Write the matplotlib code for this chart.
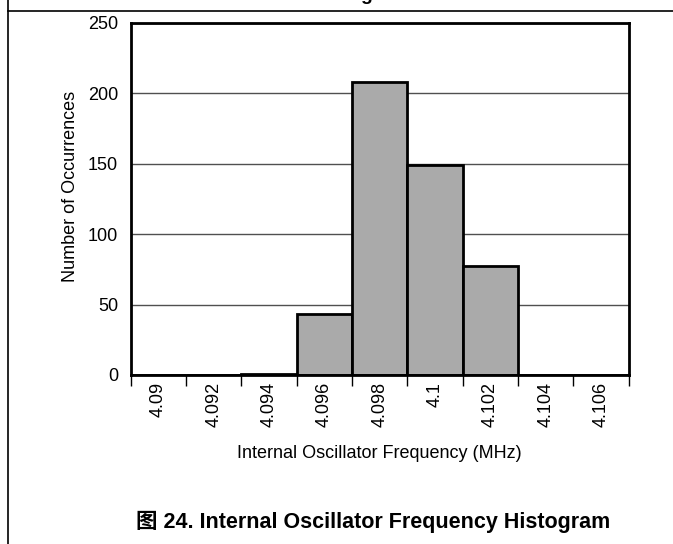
import numpy as np
import matplotlib
matplotlib.use('Agg')
import matplotlib.pyplot as plt
from matplotlib.lines import Line2D

# histogram data
bin_labels = ['4.09', '4.092', '4.094', '4.096', '4.098', '4.1', '4.102', '4.104', '4.106']
bin_centers = [4.090, 4.092, 4.094, 4.096, 4.098, 4.100, 4.102, 4.104, 4.106]
counts = [0, 0, 1, 43, 208, 149, 77, 0, 0]
y_ticks = [0, 50, 100, 150, 200, 250]

plt.rcParams['font.family'] = ['Liberation Sans', 'Noto Sans CJK SC', 'DejaVu Sans']

fig = plt.figure(figsize=(6.73, 5.44), dpi=100)
ax = fig.add_axes([0.1942, 0.3107, 0.7400, 0.6476])

bw = 0.002
ax.bar(bin_centers, counts, width=bw, color='#aaaaaa', edgecolor='black',
       linewidth=2, zorder=3)

ax.set_xlim(bin_centers[0] - bw / 2, bin_centers[-1] + bw / 2)
ax.set_ylim(0, 250)
ax.set_yticks(y_ticks)
ax.set_yticklabels([str(v) for v in y_ticks], fontsize=13)
ax.tick_params(axis='y', length=0, pad=9)

# ticks on bin edges, labels at bin centres
edges = [c - bw / 2 for c in bin_centers] + [bin_centers[-1] + bw / 2]
ax.set_xticks(edges)
ax.set_xticklabels([])
ax.tick_params(axis='x', which='major', length=8, width=1, direction='out')
ax.set_xticks(bin_centers, minor=True)
ax.set_xticklabels(bin_labels, minor=True, rotation=90, fontsize=13)
ax.tick_params(axis='x', which='minor', length=0, pad=5)

ax.yaxis.grid(True, color='#505050', linewidth=1, zorder=0)
ax.set_axisbelow(True)
for s in ax.spines.values():
    s.set_linewidth(2)
    s.set_zorder(4)

fig.text(0.5632, 0.167, 'Internal Oscillator Frequency (MHz)', ha='center',
         va='center', fontsize=13)
fig.text(0.1045, 0.658, 'Number of Occurrences', ha='center', va='center',
         rotation=90, fontsize=13)
fig.text(0.555, 0.040, '图 24. Internal Oscillator Frequency Histogram',
         ha='center', va='center', fontsize=15.5, fontweight='bold')

# page frame and cut-off title from the document
fig.add_artist(Line2D([8 / 673, 8 / 673], [0, 1], color='black', linewidth=1.2))
fig.add_artist(Line2D([8 / 673, 1], [1 - 10.5 / 544] * 2, color='black', linewidth=1.2))
fig.text(366 / 673, 1.0, 'g', ha='center', va='baseline', fontsize=14,
         fontweight='bold')

fig.savefig('out.png', dpi=100)
